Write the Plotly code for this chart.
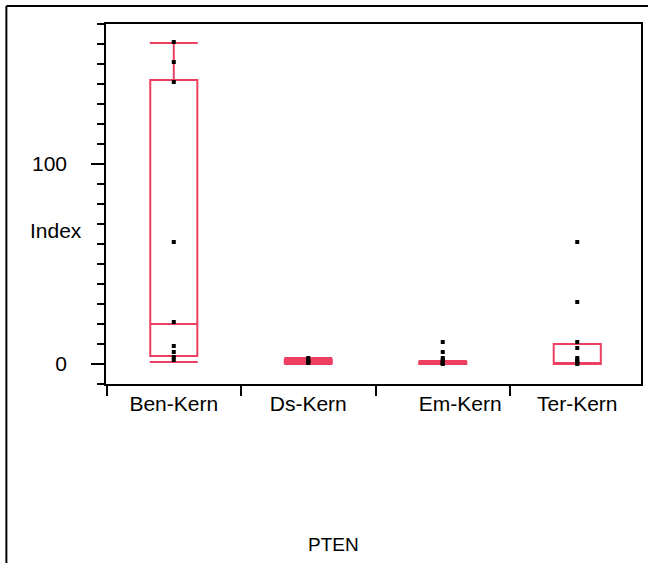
import plotly.graph_objects as go

categories = ["Ben-Kern", "Ds-Kern", "Em-Kern", "Ter-Kern"]
tick_labels = ["Ben-Kern", "Ds-Kern", "\u00a0\u00a0\u00a0\u00a0\u00a0\u00a0Em-Kern", "Ter-Kern"]

# box statistics
q1 = [4, 0.5, 0, 0]
median = [20, 1, 0.5, 0.5]
q3 = [142, 2, 1, 10]
lowerfence = [1, 0, 0, 0]
upperfence = [160.5, 3, 1.5, 10]

# individual points
ben_pts = [161, 151, 141, 61, 21, 9, 6, 3.5, 2]
ds_pts = [0.5, 1, 1.5, 2, 3]
em_pts = [0, 0.3, 0.5, 1, 2, 3, 6, 11]
ter_pts = [0, 0.5, 1, 2, 3, 8, 11, 31, 61]

BOX_COLOR = "#ED3F62"
FONT = "Liberation Sans, Arial, Helvetica, sans-serif"

fig = go.Figure()

fig.add_trace(go.Box(
    x=categories, q1=q1, median=median, q3=q3,
    lowerfence=lowerfence, upperfence=upperfence,
    boxpoints=False, width=0.35,
    fillcolor="rgba(0,0,0,0)",
    line=dict(color=BOX_COLOR, width=2),
    showlegend=False, hoverinfo="skip",
))

# whisker caps
fig.add_trace(go.Scatter(
    x=categories + categories,
    y=upperfence + lowerfence,
    mode="markers",
    marker=dict(size=1, opacity=0),
    error_y=dict(type="data", array=[0] * 8, symmetric=True,
                 width=24, thickness=2, color=BOX_COLOR),
    showlegend=False, hoverinfo="skip",
))

px_x = ([categories[0]] * len(ben_pts) + [categories[1]] * len(ds_pts)
        + [categories[2]] * len(em_pts) + [categories[3]] * len(ter_pts))
px_y = ben_pts + ds_pts + em_pts + ter_pts
fig.add_trace(go.Scatter(
    x=px_x, y=px_y, mode="markers",
    marker=dict(symbol="square", size=4, color="black"),
    showlegend=False,
))

fig.update_layout(
    width=648, height=563,
    margin=dict(l=106, r=5, t=24, b=179),
    paper_bgcolor="white", plot_bgcolor="white",
    font=dict(family=FONT, color="black", size=21),
    xaxis=dict(
        type="category", categoryorder="array", categoryarray=categories,
        tickmode="array", tickvals=categories, ticktext=tick_labels,
        range=[-0.504, 3.474],
        showline=True, linecolor="black", linewidth=1.5, mirror=True,
        ticks="outside", tickson="boundaries", ticklen=10, tickwidth=1.5,
        tickcolor="black", showgrid=False, zeroline=False,
        tickfont=dict(size=21, family=FONT),
    ),
    yaxis=dict(
        range=[-10, 170], tickvals=[0, 100], ticktext=["0", "100"],
        showline=True, linecolor="black", linewidth=1.5, mirror=True,
        ticks="outside", ticklen=13, tickwidth=1.5, tickcolor="black",
        ticklabelstandoff=20,
        minor=dict(dtick=10, tick0=0, ticks="outside", ticklen=7,
                   tickwidth=1.5, tickcolor="black", showgrid=False),
        showgrid=False, zeroline=False,
        tickfont=dict(size=21, family=FONT),
    ),
    annotations=[
        dict(text="Index", xref="paper", yref="paper", x=-0.093, y=0.425,
             xanchor="center", yanchor="middle", showarrow=False,
             font=dict(size=21, family=FONT)),
        dict(text="PTEN", xref="paper", yref="paper", x=0.426, y=-0.447,
             xanchor="center", yanchor="middle", showarrow=False,
             font=dict(size=19, family=FONT)),
    ],
    shapes=[
        dict(type="line", xref="paper", yref="paper",
             x0=(6 - 106) / 537, x1=1.02, y0=(384 - 6) / 360, y1=(384 - 6) / 360,
             line=dict(color="black", width=2)),
        dict(type="line", xref="paper", yref="paper",
             x0=(6 - 106) / 537, x1=(6 - 106) / 537, y0=(384 - 6) / 360, y1=-0.52,
             line=dict(color="black", width=2)),
    ],
)

fig.write_html("out.html")
